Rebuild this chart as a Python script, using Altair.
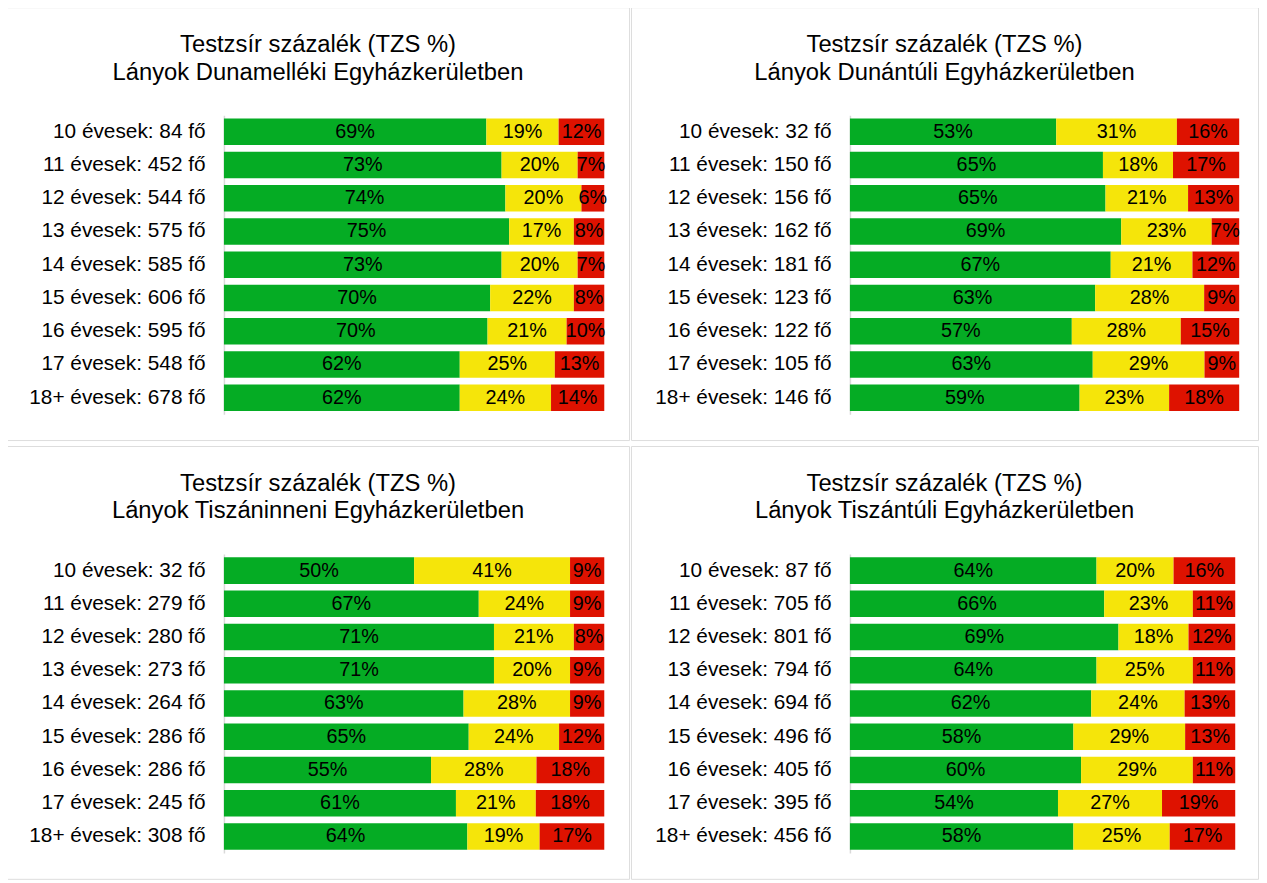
import altair as alt
import pandas as pd

title_line1 = "Testzsír százalék (TZS %)"
regions = [
    "Lányok Dunamelléki Egyházkerületben",
    "Lányok Dunántúli Egyházkerületben",
    "Lányok Tiszáninneni Egyházkerületben",
    "Lányok Tiszántúli Egyházkerületben",
]
ages = ["10 évesek", "11 évesek", "12 évesek", "13 évesek", "14 évesek",
        "15 évesek", "16 évesek", "17 évesek", "18+ évesek"]

counts = [
    [84, 452, 544, 575, 585, 606, 595, 548, 678],
    [32, 150, 156, 162, 181, 123, 122, 105, 146],
    [32, 279, 280, 273, 264, 286, 286, 245, 308],
    [87, 705, 801, 794, 694, 496, 405, 395, 456],
]
green = [
    [69, 73, 74, 75, 73, 70, 70, 62, 62],
    [53, 65, 65, 69, 67, 63, 57, 63, 59],
    [50, 67, 71, 71, 63, 65, 55, 61, 64],
    [64, 66, 69, 64, 62, 58, 60, 54, 58],
]
yellow = [
    [19, 20, 20, 17, 20, 22, 21, 25, 24],
    [31, 18, 21, 23, 21, 28, 28, 29, 23],
    [41, 24, 21, 20, 28, 24, 28, 21, 19],
    [20, 23, 18, 25, 24, 29, 29, 27, 25],
]
red = [
    [12, 7, 6, 8, 7, 8, 10, 13, 14],
    [16, 17, 13, 7, 12, 9, 15, 9, 18],
    [9, 9, 8, 9, 9, 12, 18, 18, 17],
    [16, 11, 12, 11, 13, 13, 11, 19, 17],
]
bar_end = [603, 614, 603, 610]
panel_w = [628, 633, 628, 633]
axis_x = [219, 221, 219, 221]

cats = ["zöld", "sárga", "piros"]
colors = ["#05AC24", "#F5E50A", "#DE1200"]
FONT = "Liberation Sans"
H = 437


def panel(i):
    rows = []
    labels = [f"{a}: {c} fő" for a, c in zip(ages, counts[i])]
    for j, lab in enumerate(labels):
        for k, (cat, vals) in enumerate(zip(cats, [green[i], yellow[i], red[i]])):
            rows.append({"label": lab, "cat": cat, "order": k, "value": vals[j]})
    df = pd.DataFrame(rows)
    base = alt.Chart(df).transform_stack(
        stack="value", as_=["x0", "x1"], groupby=["label"],
        sort=[alt.SortField("order")], offset="normalize"
    ).transform_calculate(mid="(datum.x0 + datum.x1) / 2",
                          txt="datum.value + '%'")
    y = alt.Y("label:N", sort=labels,
              scale=alt.Scale(range=[109, 411], paddingInner=0.2, paddingOuter=0.1),
              axis=alt.Axis(title=None, offset=-axis_x[i], ticks=False, tickSize=0,
                            labelPadding=19, labelFontSize=21, labelFont=FONT,
                            labelColor="#000000", domainColor="#d9d9d9",
                            domainWidth=1.5, grid=False))
    xs = alt.Scale(domain=[0, 1], range=[axis_x[i], bar_end[i]])
    bars = base.mark_bar(strokeWidth=0).encode(
        y=y,
        x=alt.X("x0:Q", scale=xs, axis=None),
        x2="x1:Q",
        color=alt.Color("cat:N", scale=alt.Scale(domain=cats, range=colors), legend=None),
    )
    text = base.mark_text(font=FONT, fontSize=20, color="#000000", baseline="middle").encode(
        y=alt.Y("label:N", sort=labels),
        x=alt.X("mid:Q", scale=xs, axis=None),
        text="txt:N",
    )
    return alt.layer(bars, text).properties(
        width=panel_w[i], height=H,
        title=alt.TitleParams(text=[title_line1, regions[i]], fontSize=24, font=FONT,
                              fontWeight="normal", color="#000000", lineHeight=28,
                              anchor="middle", frame="group", offset=-78),
    )


top = alt.hconcat(panel(0), panel(1), spacing=0)
bottom = alt.hconcat(panel(2), panel(3), spacing=0)
chart = alt.vconcat(top, bottom, spacing=4).properties(
    padding={"left": -2, "top": -6, "right": 0, "bottom": 0}
).configure_view(stroke="#d9d9d9", strokeWidth=2).configure(background="white")

chart.save("out.html", embed_options={"renderer": "svg", "actions": False})
